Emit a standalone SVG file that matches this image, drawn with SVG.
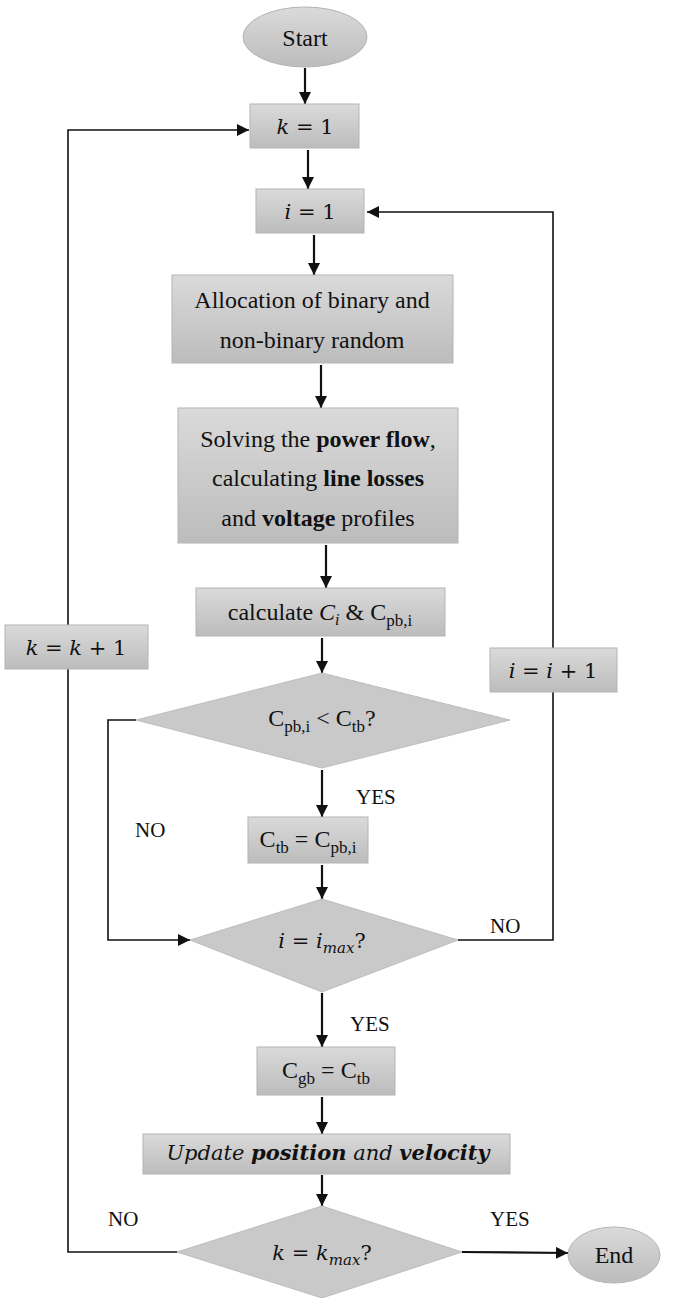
<svg xmlns="http://www.w3.org/2000/svg" width="680" height="1298" viewBox="0 0 680 1298">
<defs>
<linearGradient id="g" x1="0" y1="0" x2="0" y2="1">
<stop offset="0" stop-color="#dadada"/>
<stop offset="1" stop-color="#bcbcbc"/>
</linearGradient>
<marker id="a" viewBox="0 0 12 12" refX="12" refY="6" markerWidth="12" markerHeight="12" markerUnits="userSpaceOnUse" orient="auto">
<path d="M0,0 L12,6 L0,12 z" fill="#111"/>
</marker>
</defs>
<style>
.box{fill:url(#g);stroke:#b4b4b4;stroke-width:1}
.dia{fill:#c9c9c9;stroke:#bdbdbd;stroke-width:1}
.ell{fill:url(#g);stroke:#b4b4b4;stroke-width:1}
.t{font-family:"Liberation Serif",serif;font-size:24px;fill:#111;text-anchor:middle}
.lab{font-family:"Liberation Serif",serif;font-size:21px;fill:#111}
.m{font-family:"DejaVu Serif",serif;font-size:21px;fill:#111;text-anchor:middle}
.ar{fill:none;stroke:#111;stroke-width:2.2;marker-end:url(#a)}
.lna{fill:none;stroke:#111;stroke-width:1.6;marker-end:url(#a)}
</style>

<g id="connectors">
<line class="ar" x1="305" y1="68" x2="305" y2="104"/>
<line class="ar" x1="308" y1="150" x2="308" y2="189"/>
<line class="ar" x1="314" y1="235" x2="314" y2="275"/>
<line class="ar" x1="321" y1="365" x2="321" y2="408"/>
<line class="ar" x1="326" y1="545" x2="326" y2="588"/>
<line class="ar" x1="322" y1="638" x2="322" y2="673"/>
<line class="ar" x1="322" y1="770" x2="322" y2="817"/>
<line class="ar" x1="322" y1="865" x2="322" y2="899"/>
<line class="ar" x1="322" y1="993" x2="322" y2="1047"/>
<line class="ar" x1="322" y1="1097" x2="322" y2="1134"/>
<line class="ar" x1="322" y1="1175" x2="322" y2="1206"/>
<polyline class="lna" points="177,1252 68,1252 68,130 249,130"/>
<polyline class="lna" points="136,720 108,720 108,940 190,940"/>
<polyline class="lna" points="458,940 553,940 553,212 367,212"/>
<line class="ar" x1="462" y1="1252" x2="568" y2="1253"/>
</g>

<g id="start">
<ellipse class="ell" cx="305" cy="37" rx="62" ry="30"/>
<text class="t" x="305" y="46">Start</text>
</g>
<g id="k1">
<rect class="box" x="250" y="104" width="109" height="44"/>
<text class="m" x="305" y="134"><tspan font-style="italic">k</tspan> = 1</text>
</g>
<g id="i1">
<rect class="box" x="256" y="189" width="108" height="44"/>
<text class="m" x="310" y="219"><tspan font-style="italic">i</tspan> = 1</text>
</g>
<g id="alloc">
<rect class="box" x="172" y="275" width="281" height="88"/>
<text class="t" x="312" y="308">Allocation of binary and</text>
<text class="t" x="312" y="348">non-binary random</text>
</g>
<g id="powerflow">
<rect class="box" x="178" y="408" width="280" height="135"/>
<text class="t" x="318" y="447">Solving the <tspan font-weight="bold">power flow</tspan>,</text>
<text class="t" x="318" y="486">calculating <tspan font-weight="bold">line losses</tspan></text>
<text class="t" x="318" y="526">and <tspan font-weight="bold">voltage</tspan> profiles</text>
</g>
<g id="calc">
<rect class="box" x="196" y="588" width="249" height="48"/>
<text class="t" x="320" y="620">calculate <tspan font-style="italic">C</tspan><tspan font-style="italic" font-size="16" dy="5">i</tspan><tspan dy="-5"> &amp; C</tspan><tspan font-size="17" dy="6">pb,i</tspan></text>
</g>
<g id="kinc">
<rect class="box" x="5" y="625" width="143" height="44"/>
<text class="m" x="76" y="655"><tspan font-style="italic">k</tspan> = <tspan font-style="italic">k</tspan> + 1</text>
</g>
<g id="iinc">
<rect class="box" x="490" y="648" width="127" height="44"/>
<text class="m" x="553" y="678"><tspan font-style="italic">i</tspan> = <tspan font-style="italic">i</tspan> + 1</text>
</g>
<g id="d1">
<polygon class="dia" points="322,673 510,720 322,768 136,720"/>
<text class="t" x="322" y="726">C<tspan font-size="17" dy="6">pb,i</tspan><tspan dy="-6"> &lt; C</tspan><tspan font-size="17" dy="6">tb</tspan><tspan dy="-6">?</tspan></text>
</g>
<g id="ctb">
<rect class="box" x="248" y="817" width="120" height="46"/>
<text class="t" x="308" y="847">C<tspan font-size="17" dy="6">tb</tspan><tspan dy="-6"> = C</tspan><tspan font-size="17" dy="6">pb,i</tspan></text>
</g>
<g id="d2">
<polygon class="dia" points="322,899 458,940 322,992 190,940"/>
<text class="m" x="322" y="948"><tspan font-style="italic">i</tspan> = <tspan font-style="italic">i</tspan><tspan font-style="italic" font-size="15" dy="5">max</tspan><tspan dy="-5">?</tspan></text>
</g>
<g id="cgb">
<rect class="box" x="257" y="1047" width="138" height="48"/>
<text class="t" x="326" y="1078">C<tspan font-size="17" dy="6">gb</tspan><tspan dy="-6"> = C</tspan><tspan font-size="17" dy="6">tb</tspan></text>
</g>
<g id="update">
<rect class="box" x="143" y="1134" width="367" height="40"/>
<text class="m" x="328" y="1160" font-size="21" font-style="italic">Update <tspan font-weight="bold">position</tspan> and <tspan font-weight="bold">velocity</tspan></text>
</g>
<g id="d3">
<polygon class="dia" points="322,1206 462,1252 322,1298 177,1252"/>
<text class="m" x="322" y="1260"><tspan font-style="italic">k</tspan> = <tspan font-style="italic">k</tspan><tspan font-style="italic" font-size="15" dy="5">max</tspan><tspan dy="-5">?</tspan></text>
</g>
<g id="end">
<ellipse class="ell" cx="614" cy="1255" rx="46" ry="28"/>
<text class="t" x="614" y="1263">End</text>
</g>
<g id="labels">
<text class="lab" x="356" y="804">YES</text>
<text class="lab" x="135" y="837">NO</text>
<text class="lab" x="490" y="933">NO</text>
<text class="lab" x="350" y="1031">YES</text>
<text class="lab" x="108" y="1226">NO</text>
<text class="lab" x="490" y="1226">YES</text>
</g>
</svg>
